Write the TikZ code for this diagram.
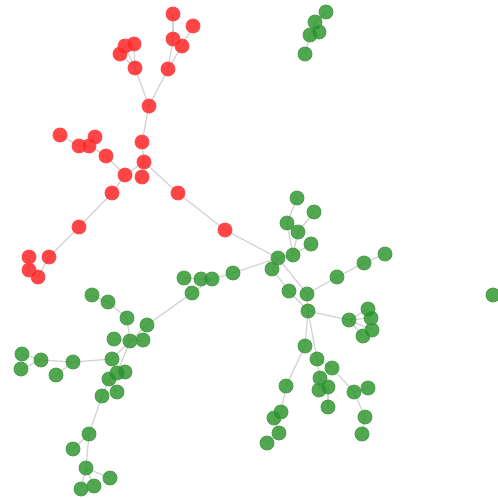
\documentclass[tikz,border=0pt]{standalone}
\begin{document}
\begin{tikzpicture}[x=1pt,y=-1pt,
  rn/.style={circle,inner sep=0pt,minimum size=14pt,fill=red!85!white,draw=red!70!white,line width=0.8pt,fill opacity=0.85},
  gn/.style={circle,inner sep=0pt,minimum size=14pt,fill=green!50!black!85!white,draw=green!45!black!70!white,line width=0.8pt,fill opacity=0.8},
  ed/.style={draw=gray!35,line width=1.2pt}]
\useasboundingbox (0,0) rectangle (498,498);
\fill[white] (0,0) rectangle (498,498);
% red nodes
\foreach \n/\x/\y in {r1/173/14,r2/193/26,r3/173/39,r4/182/46,r5/125/46,r6/134/44,r7/120/54,r8/135/68,r9/168/69,r10/149/106,r11/142/142,r12/144/162,r13/125/175,r14/142/177,r15/112/193,r16/178/193,r17/79/227,r18/225/230,r19/60/135,r20/79/146,r21/89/146,r22/95/137,r23/106/156,r24/29/257,r25/49/257,r26/29/270,r27/38/277}
  \coordinate (\n) at (\x,\y);
% green nodes
\foreach \n/\x/\y in {ga/326/12,gb/315/22,gc/310/35,gd/319/32,ge/305/54,
 h/278/258,g1/293/255,g2/287/223,g3/297/198,g4/298/232,g5/314/212,g6/311/244,
 g7/272/269,g8/233/273,g9/212/279,g10/201/279,g11/184/278,g12/192/293,
 g13/289/291,g14/307/294,g15/308/311,g16/337/277,g17/364/263,g18/385/254,
 g19/349/320,g20/368/309,g21/371/318,g22/372/330,g23/363/336,
 g24/305/346,g25/286/386,g26/281/412,g27/274/418,g28/279/433,g29/267/443,
 g30/317/359,g31/332/368,g32/320/378,g33/319/390,g34/328/387,g35/328/407,
 g36/354/392,g37/368/388,g38/365/417,g39/362/434,g40/493/295,
 g41/92/295,g42/108/302,g43/127/318,g44/147/325,g45/114/339,g46/130/341,g47/143/340,
 g48/22/354,g49/41/360,g50/73/362,g51/21/369,g52/56/375,g53/112/359,
 g54/117/373,g55/125/372,g56/109/379,g57/117/392,g58/102/396,
 g59/89/434,g60/73/449,g61/86/468,g62/110/478,g63/94/486,g64/81/489}
  \coordinate (\n) at (\x,\y);
% edges
\foreach \a/\b in {r1/r3,r2/r4,r3/r9,r4/r9,r5/r8,r6/r8,r7/r8,r8/r10,r9/r10,r10/r11,r11/r12,
 r12/r13,r12/r14,r12/r16,r13/r23,r13/r15,r15/r17,r17/r25,r25/r27,r27/r26,r26/r24,
 r19/r20,r20/r21,r21/r22,r21/r23,r16/r18,r18/h,
 ga/gb,gb/gc,gb/gd,gc/ge,
 h/g1,g1/g2,g2/g3,g1/g4,g4/g5,g1/g6,h/g7,h/g8,g8/g9,g9/g10,g10/g11,g9/g12,
 g7/g13,g13/g15,h/g14,g14/g15,g14/g16,g16/g17,g17/g18,g15/g19,g19/g20,g19/g21,g19/g22,g19/g23,
 g15/g24,g24/g25,g25/g26,g26/g27,g27/g28,g28/g29,g15/g30,g30/g32,g32/g33,g32/g34,g34/g35,
 g30/g31,g31/g36,g36/g37,g36/g38,g38/g39,
 g12/g44,g44/g46,g43/g46,g42/g43,g41/g42,g47/g46,g45/g46,g46/g53,g53/g50,g50/g49,g49/g48,g49/g51,g50/g52,
 g46/g54,g54/g55,g54/g56,g56/g57,g56/g58,g58/g59,g59/g60,g59/g61,g61/g62,g61/g63,g61/g64}
  \draw[ed] (\a) -- (\b);
\foreach \n in {r1,r2,r3,r4,r5,r6,r7,r8,r9,r10,r11,r12,r13,r14,r15,r16,r17,r18,r19,r20,r21,r22,r23,r24,r25,r26,r27}
  \node[rn] (n\n) at (\n) {};
\foreach \n in {ga,gb,gc,gd,ge,h,g1,g2,g3,g4,g5,g6,g7,g8,g9,g10,g11,g12,g13,g14,g15,g16,g17,g18,g19,g20,g21,g22,g23,g24,g25,g26,g27,g28,g29,g30,g31,g32,g33,g34,g35,g36,g37,g38,g39,g40,g41,g42,g43,g44,g45,g46,g47,g48,g49,g50,g51,g52,g53,g54,g55,g56,g57,g58,g59,g60,g61,g62,g63,g64}
  \node[gn] (n\n) at (\n) {};
\end{tikzpicture}
\end{document}
